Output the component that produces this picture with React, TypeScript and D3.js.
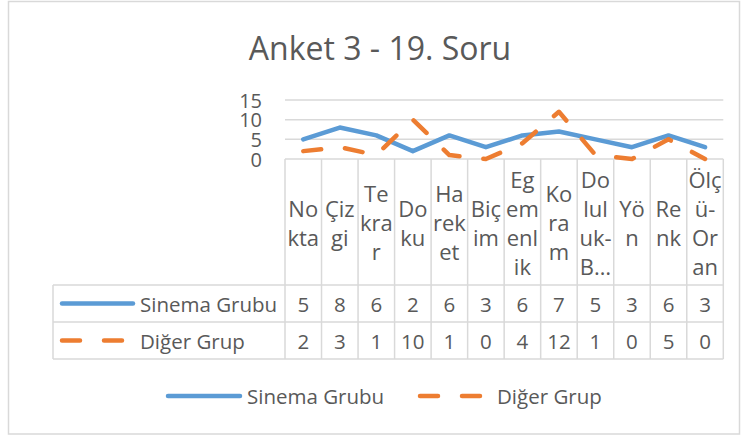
import React from 'react';
import * as d3 from 'd3';

// chart data
const categories = ['Nokta', 'Çizgi', 'Tekrar', 'Doku', 'Hareket', 'Biçim', 'Egemenlik', 'Koram', 'Doluluk-B…', 'Yön', 'Renk', 'Ölçü-Oran'];
// wrapped the way the cells show them
const categoryLines = [
  ['No', 'kta'],
  ['Çiz', 'gi'],
  ['Te', 'kra', 'r'],
  ['Do', 'ku'],
  ['Ha', 'rek', 'et'],
  ['Biç', 'im'],
  ['Eg', 'em', 'enl', 'ik'],
  ['Ko', 'ra', 'm'],
  ['Do', 'lul', 'uk-', 'B…'],
  ['Yö', 'n'],
  ['Re', 'nk'],
  ['Ölç', 'ü-', 'Or', 'an'],
];
const sinemaGrubu = [5, 8, 6, 2, 6, 3, 6, 7, 5, 3, 6, 3];
const digerGrup = [2, 3, 1, 10, 1, 0, 4, 12, 1, 0, 5, 0];
const yTicks = [0, 5, 10, 15];
const title = 'Anket 3 - 19. Soru';

const W = 743;
const H = 437;
const FONT = '"Open Sans", sans-serif';
const TEXT = '#595959';
const GRID = '#D9D9D9';
const BLUE = '#5B9BD5';
const ORANGE = '#ED7D31';

const App = () => {
  const plot = { left: 285, right: 723.3, top: 100, bottom: 159 };
  const tableLeft = 53;
  const rowLines = [285, 322, 359];

  const x = d3.scaleBand<string>().domain(categories).range([plot.left, plot.right]);
  const y = d3.scaleLinear().domain([0, 15]).range([plot.bottom, plot.top]);
  const cx = (i: number) => (x(categories[i]) as number) + x.bandwidth() / 2;

  const line = d3
    .line<number>()
    .x((d, i) => cx(i))
    .y((d) => y(d));

  const series = [
    { name: 'Sinema Grubu', values: sinemaGrubu, color: BLUE, dash: undefined },
    { name: 'Diğer Grup', values: digerGrup, color: ORANGE, dash: '18 24' },
  ];

  const lh = 29;
  const cellMid = (plot.bottom + rowLines[0]) / 2;

  return (
    <div style={{ position: 'fixed', left: 0, top: 0, width: W, height: H, background: '#fff' }}>
      <svg width={W} height={H} style={{ display: 'block', fontFamily: FONT }}>
        <rect x={8.5} y={1.5} width={731} height={432.5} fill="#fff" stroke={GRID} strokeWidth={1.5} />

        <text x={380} y={47} textAnchor="middle" dominantBaseline="central" fontSize={32} fill={TEXT}>
          {title}
        </text>

        {/* gridlines + y ticks */}
        {yTicks.map((t) => (
          <g key={t}>
            <line x1={plot.left} x2={plot.right} y1={y(t)} y2={y(t)} stroke={GRID} strokeWidth={1.5} />
            <text x={262} y={y(t)} textAnchor="end" dominantBaseline="central" fontSize={20} fill={TEXT}>
              {t}
            </text>
          </g>
        ))}

        {/* category cells and table grid */}
        {x.domain().map((c) => (
          <line key={c} x1={x(c)} x2={x(c)} y1={plot.bottom} y2={rowLines[2]} stroke={GRID} strokeWidth={1.5} />
        ))}
        <line x1={plot.right} x2={plot.right} y1={plot.bottom} y2={rowLines[2]} stroke={GRID} strokeWidth={1.5} />
        <line x1={tableLeft} x2={tableLeft} y1={rowLines[0]} y2={rowLines[2]} stroke={GRID} strokeWidth={1.5} />
        {rowLines.map((ry) => (
          <line key={ry} x1={tableLeft} x2={plot.right} y1={ry} y2={ry} stroke={GRID} strokeWidth={1.5} />
        ))}

        {categoryLines.map((lines, i) => (
          <text key={i} textAnchor="middle" fontSize={22} fill={TEXT}>
            {lines.map((s, j) => (
              <tspan key={j} x={cx(i)} y={cellMid - ((lines.length - 1) * lh) / 2 + j * lh} dominantBaseline="central">
                {s}
              </tspan>
            ))}
          </text>
        ))}

        {/* series lines */}
        {series.map((s) => (
          <path
            key={s.name}
            d={line(s.values) as string}
            fill="none"
            stroke={s.color}
            strokeWidth={4.5}
            strokeDasharray={s.dash}
            strokeLinecap="round"
            strokeLinejoin="round"
          />
        ))}

        {/* data table rows */}
        {series.map((s, r) => {
          const ry = (rowLines[r] + rowLines[r + 1]) / 2;
          return (
            <g key={s.name}>
              <line x1={62} x2={133} y1={ry} y2={ry} stroke={s.color} strokeWidth={4.5} strokeDasharray={s.dash} strokeLinecap="round" />
              <text x={140} y={ry} dominantBaseline="central" fontSize={20.5} fill={TEXT}>
                {s.name}
              </text>
              {s.values.map((v, i) => (
                <text key={i} x={cx(i)} y={ry} textAnchor="middle" dominantBaseline="central" fontSize={20.5} fill={TEXT}>
                  {v}
                </text>
              ))}
            </g>
          );
        })}

        {/* legend */}
        <line x1={168} x2={240} y1={396} y2={396} stroke={BLUE} strokeWidth={4.5} strokeLinecap="round" />
        <text x={247} y={396} dominantBaseline="central" fontSize={20.5} fill={TEXT}>
          Sinema Grubu
        </text>
        <line x1={420} x2={483} y1={396} y2={396} stroke={ORANGE} strokeWidth={4.5} strokeDasharray="18 24" strokeLinecap="round" />
        <text x={497} y={396} dominantBaseline="central" fontSize={20.5} fill={TEXT}>
          Diğer Grup
        </text>
      </svg>
    </div>
  );
};

export default App;
